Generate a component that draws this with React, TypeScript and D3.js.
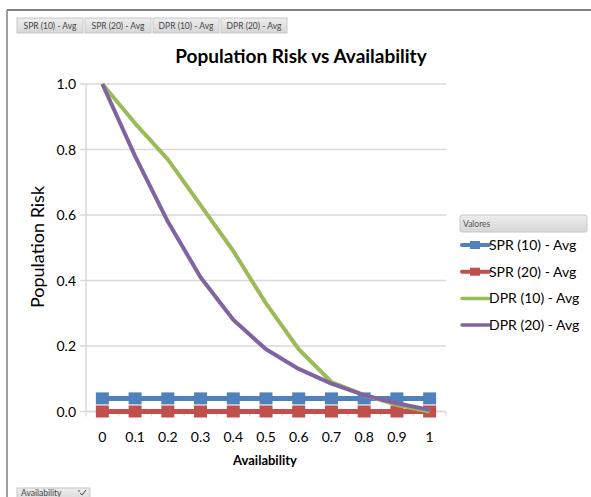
import React from "react";
import * as d3 from "d3";

const categories = ["0", "0.1", "0.2", "0.3", "0.4", "0.5", "0.6", "0.7", "0.8", "0.9", "1"];
const spr10 = [0.04, 0.04, 0.04, 0.04, 0.04, 0.04, 0.04, 0.04, 0.04, 0.04, 0.04];
const spr20 = [0, 0, 0, 0, 0, 0, 0, 0, 0, 0, 0];
const dpr10 = [1.0, 0.88, 0.77, 0.63, 0.49, 0.33, 0.19, 0.09, 0.05, 0.02, 0.0];
const dpr20 = [1.0, 0.78, 0.58, 0.41, 0.28, 0.19, 0.13, 0.085, 0.05, 0.025, 0.005];
const yTicks = [0, 0.2, 0.4, 0.6, 0.8, 1.0];
const seriesNames = ["SPR (10) - Avg", "SPR (20) - Avg", "DPR (10) - Avg", "DPR (20) - Avg"];
const seriesColors = ["#4F81BD", "#C0504D", "#9BBB59", "#8064A2"];
const seriesMarkers = [true, true, false, false];
const seriesData = [spr10, spr20, dpr10, dpr20];

const W = 591;
const H = 497;
const FONT = "Lato, 'Open Sans', sans-serif";

export default function App() {
  const left = 86, right = 446, top = 84, bottom = 411.5;
  const x = d3.scaleBand<string>().domain(categories).range([left, right]);
  const xc = (i: number) => (x(categories[i]) as number) + x.bandwidth() / 2;
  const y = d3.scaleLinear().domain([0, 1]).range([bottom, top]);
  const line = d3.line<number>().x((_, i) => xc(i)).y((d) => y(d));

  const buttons = seriesNames;
  const btnX = [17, 85, 153, 221];

  return (
    <svg width={W} height={H} style={{ position: "absolute", left: 0, top: 0, fontFamily: FONT }}>
      <defs>
        <linearGradient id="btn" x1="0" y1="0" x2="0" y2="1">
          <stop offset="0" stopColor="#EEEEEE" />
          <stop offset="1" stopColor="#D6D6D6" />
        </linearGradient>
      </defs>
      <rect x={0} y={0} width={W} height={H} fill="#fff" />
      {/* frame */}
      <line x1={7} y1={10} x2={W} y2={10} stroke="#7F7F7F" strokeWidth={2} />
      <line x1={7} y1={10} x2={7} y2={H} stroke="#7F7F7F" strokeWidth={1.5} />

      {/* top buttons */}
      {buttons.map((b, i) => (
        <g key={b}>
          <rect x={btnX[i]} y={18} width={66} height={15} fill="url(#btn)" stroke="#C8C8C8" />
          <text x={btnX[i] + 33} y={29} textAnchor="middle" fontSize={8.5} fill="#444">{b}</text>
        </g>
      ))}

      {/* bottom button */}
      <rect x={17} y={488} width={73} height={14} fill="url(#btn)" stroke="#C8C8C8" />
      <text x={21} y={496} fontSize={8.5} fill="#444">Availability</text>
      <path d="M80,493 l2,2 l4,-5" fill="none" stroke="#444" strokeWidth={1} />
      <circle cx={79} cy={491} r={0.8} fill="#444" />

      {/* title */}
      <text x={301} y={63} textAnchor="middle" fontSize={19} fontWeight="bold" fill="#000">
        Population Risk vs Availability
      </text>

      {/* gridlines */}
      {yTicks.map((t) => (
        <g key={t}>
          <line x1={left - 6} x2={right} y1={y(t)} y2={y(t)} stroke="#D9D9D9" strokeWidth={1.5} />
          <text x={left - 10} y={y(t) + 5} textAnchor="end" fontSize={14} fill="#000">
            {t.toFixed(1)}
          </text>
        </g>
      ))}
      {/* y axis */}
      <line x1={left} x2={left} y1={top} y2={bottom} stroke="#D9D9D9" strokeWidth={1.5} />
      {/* x axis */}
      <line x1={left} x2={right} y1={bottom} y2={bottom} stroke="#D9D9D9" strokeWidth={1.5} />
      {categories.map((c, i) => (
        <line key={"t" + c} x1={left + i * x.bandwidth()} x2={left + i * x.bandwidth()} y1={bottom} y2={bottom + 5} stroke="#D9D9D9" strokeWidth={1.2} />
      ))}
      <line x1={right} x2={right} y1={bottom} y2={bottom + 5} stroke="#D9D9D9" strokeWidth={1.2} />
      {categories.map((c, i) => (
        <text key={c} x={xc(i)} y={442} textAnchor="middle" fontSize={14} fill="#000">{c}</text>
      ))}

      {/* axis titles */}
      <text x={265} y={465} textAnchor="middle" fontSize={13} fontWeight="bold" fill="#000">Availability</text>
      <text transform="translate(44,247) rotate(-90)" textAnchor="middle" fontSize={18} fill="#000">Population Risk</text>

      {/* series */}
      {seriesData.map((d, s) => (
        <g key={seriesNames[s]}>
          <path d={line(d) as string} fill="none" stroke={seriesColors[s]} strokeWidth={s < 2 ? 5 : 4} strokeLinejoin="round" />
          {seriesMarkers[s] && d.map((v, i) => (
            <rect key={i} x={xc(i) - 6.5} y={y(v) - 6} width={13} height={12} fill={seriesColors[s]} />
          ))}
        </g>
      ))}

      {/* legend */}
      <rect x={460} y={215} width={127} height={17} rx={2} fill="url(#btn)" stroke="#C8C8C8" />
      <text x={463} y={227} fontSize={8.5} fill="#555">Valores</text>
      {seriesNames.map((n, s) => {
        const ly = 245 + s * 26.7;
        return (
          <g key={n}>
            <line x1={462} x2={489} y1={ly} y2={ly} stroke={seriesColors[s]} strokeWidth={s < 2 ? 4 : 3.5} strokeLinecap="round" />
            {seriesMarkers[s] && <rect x={470} y={ly - 4} width={10} height={8} fill={seriesColors[s]} />}
            <text x={489} y={ly + 5} fontSize={14} fill="#000">{n}</text>
          </g>
        );
      })}
    </svg>
  );
}
